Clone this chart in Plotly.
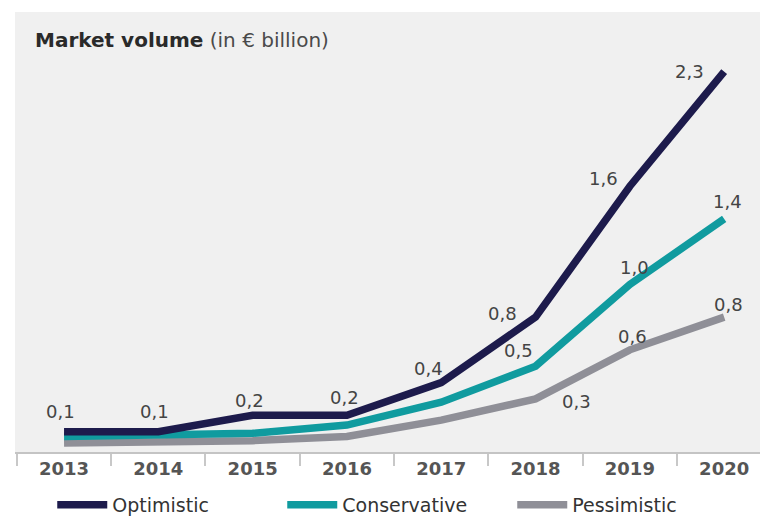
import plotly.graph_objects as go

# Market volume scenarios, € billion
years = ["2013", "2014", "2015", "2016", "2017", "2018", "2019", "2020"]
optimistic = [0.1, 0.1, 0.2, 0.2, 0.4, 0.8, 1.6, 2.3]
conservative = [0.07, 0.08, 0.09, 0.14, 0.28, 0.5, 1.0, 1.4]
pessimistic = [0.03, 0.035, 0.045, 0.07, 0.17, 0.3, 0.6, 0.8]

# Points that carry a value label -> (xshift, yshift) of the label in px
opt_label_pos = {0: (-4, 20), 1: (-4, 20), 2: (-3, 15), 3: (-2, 18),
                 4: (-13, 14), 5: (-33, 4), 6: (-26, 8), 7: (-35, 0)}
con_label_pos = {5: (-17, 16), 6: (5, 17), 7: (3, 17)}
pes_label_pos = {5: (41, -3), 6: (3, 13), 7: (4, 13)}

FONT = "DejaVu Sans, Arial, sans-serif"
series = [
    ("Optimistic", optimistic, "#1d1b4c", opt_label_pos),
    ("Conservative", conservative, "#109b9f", con_label_pos),
    ("Pessimistic", pessimistic, "#8f8f97", pes_label_pos),
]

fig = go.Figure()
# draw back-to-front so the optimistic line sits on top
for name, vals, color, _ in reversed(series):
    fig.add_trace(go.Scatter(
        x=years, y=vals, name=name, mode="lines",
        line=dict(color=color, width=7.5),
        hoverinfo="skip",
    ))

annotations = []
for name, vals, color, pos in series:
    for i, (dx, dy) in pos.items():
        # category axes place annotations by category index
        annotations.append(dict(
            x=i, y=vals[i], xref="x", yref="y",
            text=f"{vals[i]:.1f}".replace(".", ","),
            showarrow=False, xshift=dx, yshift=dy,
            font=dict(family=FONT, size=18, color="#444444"),
        ))

annotations.append(dict(
    x=0.024, y=0.936, xref="paper", yref="paper",
    xanchor="left", yanchor="middle", showarrow=False,
    text="<b>Market volume</b><span style='color:#4a4a4a'> (in € billion)</span>",
    font=dict(family=FONT, size=20, color="#2a2a2a"),
))

fig.update_layout(
    width=760, height=516,
    margin=dict(l=15, r=0, t=12, b=64, autoexpand=False),
    paper_bgcolor="white",
    plot_bgcolor="#f0f0f0",
    showlegend=True,
    legend=dict(
        orientation="h", x=0.05, y=-0.12, xanchor="left", yanchor="middle",
        traceorder="reversed",
        font=dict(family=FONT, size=19, color="#333333"),
        itemwidth=50, entrywidth=165, bgcolor="rgba(0,0,0,0)",
    ),
    annotations=annotations,
)

fig.update_xaxes(
    type="category", range=[-0.52, 7.38],
    showgrid=False, zeroline=False,
    showline=True, linecolor="#c4c4c4", linewidth=1.5,
    ticks="outside", tickson="boundaries", ticklen=12, tickcolor="#c8c8c8", tickwidth=1.5,
    tickfont=dict(family=FONT, size=18, color="#555555", weight="bold"),
    fixedrange=True,
)
fig.update_yaxes(
    range=[-0.0245, 2.665], visible=False, showgrid=False, zeroline=False,
    fixedrange=True,
)

fig.write_html("out.html")
